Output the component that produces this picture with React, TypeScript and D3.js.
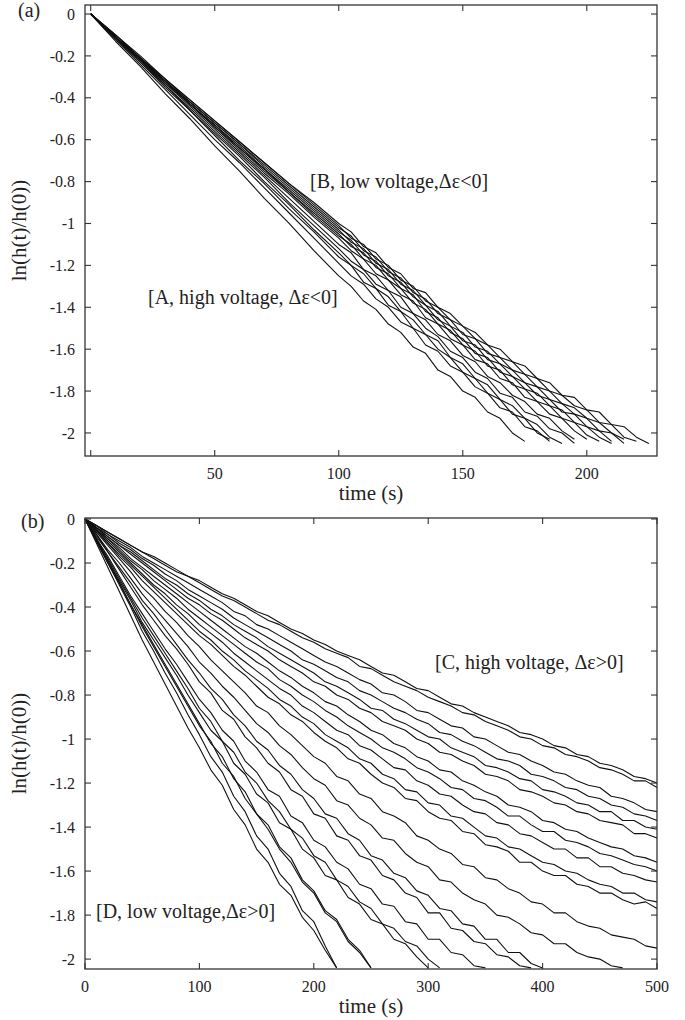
import { useEffect, useRef } from "react";
import * as d3 from "d3";

// ---- panel (a): sampling times (s) and ln(h(t)/h(0)) ----
const timesA = [0, 10, 20, 30, 40, 50, 60, 70, 80, 90, 100, 105, 110, 115, 120, 125, 130, 135,
  140, 145, 150, 155, 160, 165, 170, 175, 180, 185, 190, 195, 200, 205, 210, 215, 220, 225];

const a1 = [0, -0.13, -0.25, -0.38, -0.50, -0.63, -0.75, -0.88, -1.00, -1.13, -1.25,
  -1.30, -1.37, -1.41, -1.48, -1.52, -1.59, -1.62, -1.70, -1.73, -1.80, -1.83, -1.90, -1.93, -2.00, -2.04];
const a2 = [0, -0.12, -0.24, -0.36, -0.48, -0.60, -0.71, -0.83, -0.95, -1.07, -1.19,
  -1.25, -1.29, -1.36, -1.40, -1.47, -1.50, -1.58, -1.61, -1.68, -1.71, -1.78, -1.81, -1.88, -1.90, -1.97, -1.99, -2.04];
const a3 = [0, -0.12, -0.23, -0.35, -0.46, -0.58, -0.70, -0.81, -0.93, -1.04, -1.16,
  -1.20, -1.28, -1.31, -1.39, -1.42, -1.50, -1.53, -1.60, -1.64, -1.71, -1.74, -1.81, -1.84, -1.91, -1.93, -2.00, -2.03];
const a4 = [0, -0.11, -0.23, -0.34, -0.46, -0.57, -0.68, -0.80, -0.91, -1.03, -1.14,
  -1.20, -1.24, -1.31, -1.35, -1.42, -1.46, -1.53, -1.56, -1.64, -1.67, -1.74, -1.77, -1.84, -1.87, -1.93, -1.96, -2.02, -2.05];
const a5 = [0, -0.11, -0.22, -0.34, -0.45, -0.56, -0.67, -0.78, -0.90, -1.01, -1.12,
  -1.18, -1.22, -1.29, -1.32, -1.40, -1.43, -1.50, -1.54, -1.61, -1.64, -1.71, -1.74, -1.81, -1.83, -1.90, -1.92, -1.98, -2.00, -2.05];
const a6 = [0, -0.11, -0.22, -0.33, -0.44, -0.55, -0.66, -0.77, -0.88, -0.99, -1.10,
  -1.14, -1.22, -1.25, -1.32, -1.35, -1.43, -1.46, -1.53, -1.56, -1.63, -1.66, -1.73, -1.76, -1.82, -1.85, -1.91, -1.93, -1.99, -2.03];
const a7 = [0, -0.11, -0.22, -0.33, -0.43, -0.54, -0.65, -0.76, -0.86, -0.97, -1.07,
  -1.13, -1.17, -1.24, -1.27, -1.34, -1.37, -1.45, -1.48, -1.55, -1.58, -1.65, -1.67, -1.74, -1.76, -1.83, -1.85, -1.91, -1.93, -1.99, -2.03];
const a8 = [0, -0.11, -0.22, -0.32, -0.43, -0.54, -0.64, -0.75, -0.85, -0.96, -1.06,
  -1.10, -1.17, -1.20, -1.27, -1.31, -1.38, -1.41, -1.48, -1.51, -1.58, -1.61, -1.68, -1.70, -1.77, -1.79, -1.85, -1.87, -1.93, -1.95, -2.01, -2.04];
const a9 = [0, -0.11, -0.22, -0.32, -0.43, -0.53, -0.64, -0.74, -0.85, -0.95, -1.05,
  -1.11, -1.14, -1.21, -1.24, -1.31, -1.34, -1.42, -1.45, -1.52, -1.55, -1.62, -1.64, -1.71, -1.73, -1.79, -1.81, -1.87, -1.89, -1.95, -1.97, -2.02, -2.05];
const a10 = [0, -0.11, -0.21, -0.32, -0.43, -0.53, -0.63, -0.74, -0.84, -0.94, -1.04,
  -1.08, -1.15, -1.18, -1.25, -1.28, -1.35, -1.39, -1.46, -1.49, -1.56, -1.58, -1.65, -1.67, -1.73, -1.76, -1.82, -1.84, -1.90, -1.91, -1.97, -1.99, -2.04];
const a11 = [0, -0.11, -0.21, -0.32, -0.42, -0.52, -0.62, -0.73, -0.83, -0.93, -1.03,
  -1.09, -1.12, -1.19, -1.22, -1.29, -1.32, -1.39, -1.42, -1.49, -1.52, -1.59, -1.61, -1.67, -1.70, -1.76, -1.78, -1.84, -1.86, -1.91, -1.93, -1.99, -2.00, -2.05];
const a12 = [0, -0.10, -0.21, -0.31, -0.42, -0.52, -0.62, -0.72, -0.82, -0.92, -1.02,
  -1.06, -1.13, -1.16, -1.23, -1.26, -1.33, -1.36, -1.43, -1.46, -1.53, -1.55, -1.62, -1.64, -1.70, -1.72, -1.78, -1.80, -1.86, -1.88, -1.93, -1.95, -2.00, -2.03];
const a13 = [0, -0.10, -0.21, -0.31, -0.41, -0.51, -0.61, -0.71, -0.81, -0.91, -1.01,
  -1.07, -1.10, -1.17, -1.20, -1.27, -1.30, -1.37, -1.40, -1.46, -1.49, -1.55, -1.58, -1.64, -1.66, -1.72, -1.74, -1.80, -1.82, -1.87, -1.89, -1.95, -1.96, -2.02, -2.04];
const a14 = [0, -0.10, -0.20, -0.31, -0.41, -0.51, -0.61, -0.71, -0.81, -0.90, -1.00,
  -1.04, -1.11, -1.14, -1.21, -1.24, -1.31, -1.33, -1.40, -1.43, -1.49, -1.52, -1.58, -1.60, -1.66, -1.68, -1.74, -1.76, -1.82, -1.83, -1.89, -1.90, -1.96, -1.97, -2.02, -2.05];

// ---- panel (b): sampling times (s) ----
const timesB = [0, 10, 20, 30, 40, 50, 60, 70, 80, 90,
  100, 110, 120, 130, 140, 150, 160, 170, 180, 190,
  200, 210, 220, 230, 240, 250, 260, 270, 280, 290,
  300, 310, 320, 330, 340, 350, 360, 370, 380, 390,
  400, 410, 420, 430, 440, 450, 460, 470, 480, 490, 500];

// group C (slow decays reaching t = 500 s)
const c1 = [0, -0.03, -0.06, -0.09, -0.12, -0.15, -0.17, -0.20, -0.23, -0.26,
  -0.28, -0.31, -0.34, -0.36, -0.39, -0.42, -0.44, -0.47, -0.50, -0.52,
  -0.55, -0.57, -0.60, -0.62, -0.64, -0.67, -0.70, -0.71, -0.74, -0.77,
  -0.78, -0.81, -0.84, -0.85, -0.88, -0.90, -0.92, -0.94, -0.97, -0.98,
  -1.00, -1.03, -1.04, -1.07, -1.08, -1.11, -1.12, -1.14, -1.17, -1.18, -1.20];
const c2 = [0, -0.03, -0.06, -0.09, -0.12, -0.15, -0.18, -0.21, -0.24, -0.26,
  -0.29, -0.32, -0.35, -0.37, -0.40, -0.43, -0.46, -0.48, -0.51, -0.54,
  -0.56, -0.59, -0.61, -0.63, -0.67, -0.68, -0.71, -0.74, -0.76, -0.78,
  -0.81, -0.83, -0.85, -0.88, -0.89, -0.92, -0.94, -0.96, -0.99, -1.00,
  -1.03, -1.04, -1.07, -1.08, -1.10, -1.13, -1.14, -1.16, -1.19, -1.19, -1.22];
const c3 = [0, -0.03, -0.07, -0.10, -0.13, -0.17, -0.20, -0.23, -0.26, -0.29,
  -0.32, -0.35, -0.38, -0.42, -0.44, -0.48, -0.50, -0.53, -0.56, -0.59,
  -0.62, -0.65, -0.67, -0.70, -0.73, -0.75, -0.79, -0.80, -0.83, -0.87,
  -0.88, -0.91, -0.94, -0.95, -0.99, -1.00, -1.03, -1.06, -1.07, -1.10,
  -1.12, -1.15, -1.16, -1.19, -1.21, -1.22, -1.26, -1.27, -1.29, -1.32, -1.33];
const c4 = [0, -0.04, -0.07, -0.11, -0.14, -0.18, -0.21, -0.25, -0.28, -0.32,
  -0.35, -0.38, -0.41, -0.45, -0.48, -0.51, -0.54, -0.57, -0.60, -0.64,
  -0.66, -0.69, -0.72, -0.74, -0.78, -0.80, -0.83, -0.86, -0.88, -0.91,
  -0.93, -0.97, -0.98, -1.01, -1.03, -1.06, -1.09, -1.10, -1.12, -1.16,
  -1.17, -1.19, -1.22, -1.23, -1.26, -1.27, -1.30, -1.31, -1.34, -1.35, -1.37];
const c5 = [0, -0.04, -0.08, -0.12, -0.15, -0.19, -0.23, -0.27, -0.30, -0.34,
  -0.37, -0.41, -0.44, -0.48, -0.51, -0.54, -0.58, -0.61, -0.64, -0.67,
  -0.70, -0.74, -0.76, -0.79, -0.82, -0.86, -0.87, -0.91, -0.93, -0.96,
  -0.99, -1.00, -1.04, -1.06, -1.08, -1.12, -1.13, -1.15, -1.18, -1.19,
  -1.23, -1.24, -1.26, -1.29, -1.30, -1.33, -1.33, -1.37, -1.37, -1.40, -1.41];
const c6 = [0, -0.04, -0.08, -0.12, -0.16, -0.20, -0.24, -0.28, -0.32, -0.36,
  -0.39, -0.43, -0.46, -0.50, -0.54, -0.57, -0.60, -0.64, -0.67, -0.70,
  -0.74, -0.76, -0.80, -0.82, -0.86, -0.88, -0.92, -0.94, -0.96, -1.00,
  -1.02, -1.06, -1.07, -1.10, -1.12, -1.16, -1.17, -1.19, -1.23, -1.24,
  -1.26, -1.29, -1.30, -1.33, -1.34, -1.37, -1.38, -1.39, -1.43, -1.43, -1.45];
const c7 = [0, -0.04, -0.09, -0.13, -0.18, -0.22, -0.26, -0.30, -0.34, -0.38,
  -0.42, -0.46, -0.50, -0.54, -0.58, -0.61, -0.65, -0.69, -0.72, -0.76,
  -0.79, -0.83, -0.85, -0.89, -0.92, -0.96, -0.98, -1.02, -1.04, -1.08,
  -1.10, -1.14, -1.15, -1.19, -1.21, -1.24, -1.26, -1.30, -1.31, -1.33,
  -1.37, -1.38, -1.41, -1.42, -1.45, -1.47, -1.49, -1.50, -1.53, -1.54, -1.56];
const c8 = [0, -0.05, -0.09, -0.14, -0.19, -0.23, -0.28, -0.32, -0.36, -0.41,
  -0.45, -0.49, -0.53, -0.57, -0.61, -0.65, -0.68, -0.73, -0.76, -0.80,
  -0.83, -0.87, -0.90, -0.94, -0.97, -1.00, -1.04, -1.06, -1.09, -1.13,
  -1.15, -1.18, -1.22, -1.23, -1.27, -1.28, -1.31, -1.35, -1.35, -1.39,
  -1.42, -1.42, -1.46, -1.47, -1.49, -1.52, -1.53, -1.55, -1.57, -1.58, -1.60];
const c9 = [0, -0.05, -0.10, -0.15, -0.20, -0.25, -0.30, -0.34, -0.39, -0.43,
  -0.48, -0.52, -0.56, -0.61, -0.65, -0.69, -0.73, -0.77, -0.80, -0.85,
  -0.88, -0.92, -0.96, -0.98, -1.03, -1.05, -1.09, -1.13, -1.14, -1.19,
  -1.21, -1.25, -1.26, -1.30, -1.33, -1.34, -1.38, -1.39, -1.43, -1.44,
  -1.47, -1.50, -1.50, -1.54, -1.54, -1.58, -1.58, -1.61, -1.62, -1.64, -1.65];
const c10 = [0, -0.05, -0.11, -0.16, -0.21, -0.26, -0.31, -0.36, -0.41, -0.46,
  -0.51, -0.55, -0.60, -0.64, -0.69, -0.73, -0.77, -0.82, -0.85, -0.90,
  -0.93, -0.98, -1.01, -1.04, -1.09, -1.11, -1.16, -1.18, -1.23, -1.24,
  -1.29, -1.30, -1.35, -1.36, -1.40, -1.44, -1.45, -1.49, -1.50, -1.53,
  -1.56, -1.57, -1.60, -1.61, -1.64, -1.66, -1.67, -1.70, -1.70, -1.73, -1.74];
const c11 = [0, -0.06, -0.11, -0.17, -0.22, -0.28, -0.33, -0.38, -0.43, -0.48,
  -0.53, -0.57, -0.62, -0.67, -0.71, -0.76, -0.81, -0.84, -0.89, -0.92,
  -0.97, -1.01, -1.04, -1.09, -1.11, -1.16, -1.20, -1.22, -1.27, -1.28,
  -1.33, -1.36, -1.37, -1.42, -1.43, -1.48, -1.49, -1.51, -1.56, -1.56,
  -1.60, -1.62, -1.62, -1.66, -1.67, -1.70, -1.70, -1.73, -1.75, -1.74, -1.77];
const c12 = [0, -0.06, -0.12, -0.18, -0.24, -0.31, -0.36, -0.42, -0.47, -0.53,
  -0.58, -0.64, -0.69, -0.74, -0.79, -0.85, -0.88, -0.94, -0.98, -1.03,
  -1.08, -1.11, -1.17, -1.19, -1.25, -1.27, -1.33, -1.35, -1.38, -1.44,
  -1.46, -1.50, -1.52, -1.57, -1.58, -1.63, -1.64, -1.68, -1.70, -1.74,
  -1.75, -1.79, -1.79, -1.83, -1.85, -1.86, -1.89, -1.90, -1.91, -1.94, -1.95];

// group D (fast decays that leave the plot at the bottom)
const d1 = [0, -0.11, -0.22, -0.33, -0.44, -0.55, -0.65, -0.75, -0.85, -0.95,
  -1.04, -1.14, -1.21, -1.32, -1.39, -1.50, -1.56, -1.66, -1.71, -1.81,
  -1.87, -1.96, -2.04];
const d2 = [0, -0.10, -0.20, -0.30, -0.40, -0.51, -0.60, -0.70, -0.79, -0.89,
  -0.98, -1.08, -1.15, -1.26, -1.33, -1.44, -1.50, -1.61, -1.67, -1.78,
  -1.83, -1.94, -2.04];
const d3v = [0, -0.10, -0.20, -0.29, -0.39, -0.49, -0.58, -0.67, -0.76, -0.85,
  -0.94, -1.01, -1.11, -1.17, -1.27, -1.34, -1.41, -1.50, -1.56, -1.65,
  -1.70, -1.79, -1.83, -1.92, -1.97, -2.04];
const d4 = [0, -0.10, -0.19, -0.29, -0.39, -0.48, -0.57, -0.66, -0.75, -0.84,
  -0.93, -1.02, -1.08, -1.18, -1.24, -1.34, -1.39, -1.49, -1.54, -1.64,
  -1.69, -1.78, -1.82, -1.91, -1.96, -2.04];
const d5 = [0, -0.09, -0.19, -0.28, -0.37, -0.47, -0.55, -0.63, -0.71, -0.80,
  -0.88, -0.96, -1.01, -1.11, -1.16, -1.25, -1.29, -1.38, -1.41, -1.50,
  -1.54, -1.62, -1.64, -1.72, -1.75, -1.82, -1.84, -1.91, -1.93, -1.99,
  -2.04];
const d6 = [0, -0.09, -0.18, -0.27, -0.36, -0.45, -0.53, -0.61, -0.69, -0.77,
  -0.86, -0.92, -1.01, -1.06, -1.15, -1.20, -1.28, -1.33, -1.41, -1.45,
  -1.53, -1.56, -1.64, -1.67, -1.74, -1.77, -1.84, -1.86, -1.92, -1.94,
  -2.00, -2.04];
const d7 = [0, -0.09, -0.17, -0.26, -0.35, -0.43, -0.51, -0.59, -0.66, -0.74,
  -0.82, -0.88, -0.96, -1.01, -1.10, -1.15, -1.23, -1.26, -1.35, -1.38,
  -1.46, -1.49, -1.56, -1.59, -1.66, -1.68, -1.75, -1.76, -1.83, -1.84,
  -1.91, -1.91, -1.97, -1.98, -2.03, -2.04];
const d8 = [0, -0.08, -0.15, -0.23, -0.31, -0.39, -0.46, -0.53, -0.59, -0.66,
  -0.74, -0.79, -0.87, -0.91, -0.99, -1.04, -1.11, -1.15, -1.23, -1.26,
  -1.34, -1.36, -1.44, -1.46, -1.53, -1.55, -1.62, -1.64, -1.70, -1.72,
  -1.79, -1.79, -1.86, -1.87, -1.92, -1.93, -1.98, -1.99, -2.03, -2.04];
const d9 = [0, -0.07, -0.15, -0.22, -0.29, -0.37, -0.43, -0.50, -0.57, -0.64,
  -0.70, -0.77, -0.82, -0.89, -0.94, -1.01, -1.05, -1.12, -1.16, -1.23,
  -1.27, -1.34, -1.36, -1.43, -1.46, -1.53, -1.55, -1.61, -1.63, -1.69,
  -1.71, -1.77, -1.78, -1.84, -1.85, -1.91, -1.91, -1.97, -1.97, -2.02,
  -2.04];
const d10 = [0, -0.07, -0.14, -0.20, -0.27, -0.34, -0.40, -0.46, -0.52, -0.58,
  -0.65, -0.70, -0.76, -0.81, -0.87, -0.93, -0.97, -1.03, -1.07, -1.13,
  -1.18, -1.21, -1.28, -1.30, -1.36, -1.39, -1.45, -1.46, -1.52, -1.56,
  -1.58, -1.64, -1.65, -1.70, -1.73, -1.75, -1.80, -1.81, -1.84, -1.88,
  -1.89, -1.93, -1.93, -1.97, -1.99, -2.00, -2.03, -2.04];

const curvesA = [a1, a2, a3, a4, a5, a6, a7, a8, a9, a10, a11, a12, a13, a14];
const curvesB = [c1, c2, c3, c4, c5, c6, c7, c8, c9, c10, c11, c12,
  d1, d2, d3v, d4, d5, d6, d7, d8, d9, d10];

// ticks
const yTicks = [0, -0.2, -0.4, -0.6, -0.8, -1, -1.2, -1.4, -1.6, -1.8, -2];
const xTicksA = [0, 50, 100, 150, 200];
const xLabelsA = [50, 100, 150, 200];
const xTicksB = [0, 100, 200, 300, 400, 500];
const xLabelsB = [0, 100, 200, 300, 400, 500];

const yTitle = "ln(h(t)/h(0))";
const xTitle = "time (s)";

const FONT = '"Liberation Serif", "Times New Roman", serif';
const AXIS = "#333";
const INK = "#111";
const TICK = 6;

const drawPanel = (svg, p) => {
  const x = d3.scaleLinear().domain(p.xDomain).range([p.left, p.right]);
  const y = d3.scaleLinear().domain(p.yDomain).range([p.bottom, p.top]);
  const g = svg.append("g");

  const line = d3.line()
    .x((_, i) => x(p.times[i]))
    .y((v) => y(v));

  g.append("g")
    .selectAll("path")
    .data(p.curves)
    .join("path")
    .attr("d", (d) => line(d))
    .attr("fill", "none")
    .attr("stroke", INK)
    .attr("stroke-width", 1.1)
    .attr("stroke-linejoin", "round");

  // box
  g.append("rect")
    .attr("x", p.left).attr("y", p.top)
    .attr("width", p.right - p.left).attr("height", p.bottom - p.top)
    .attr("fill", "none").attr("stroke", AXIS).attr("stroke-width", 1.3);

  const ticks = g.append("g").attr("stroke", AXIS).attr("stroke-width", 1.1);
  p.xTicks.forEach((t) => {
    const xx = x(t);
    ticks.append("line").attr("x1", xx).attr("x2", xx).attr("y1", p.bottom).attr("y2", p.bottom - TICK);
    ticks.append("line").attr("x1", xx).attr("x2", xx).attr("y1", p.top).attr("y2", p.top + TICK);
  });
  yTicks.forEach((v) => {
    const yy = y(v);
    ticks.append("line").attr("x1", p.left).attr("x2", p.left + TICK).attr("y1", yy).attr("y2", yy);
    ticks.append("line").attr("x1", p.right).attr("x2", p.right - TICK).attr("y1", yy).attr("y2", yy);
  });

  const txt = g.append("g").attr("font-family", FONT).attr("fill", "#222");

  txt.selectAll(".ylab").data(yTicks).join("text")
    .attr("x", p.left - 10).attr("y", (v) => y(v)).attr("dy", "0.35em")
    .attr("text-anchor", "end").attr("font-size", 16)
    .text((v) => String(v));

  txt.selectAll(".xlab").data(p.xLabels).join("text")
    .attr("x", (t) => x(t)).attr("y", p.bottom + 23)
    .attr("text-anchor", "middle").attr("font-size", 16)
    .text((t) => String(t));

  txt.append("text")
    .attr("x", (p.left + p.right) / 2).attr("y", p.bottom + 44)
    .attr("text-anchor", "middle").attr("font-size", 21)
    .text(xTitle);

  txt.append("text")
    .attr("transform", `translate(26,${(p.top + p.bottom) / 2}) rotate(-90)`)
    .attr("text-anchor", "middle").attr("font-size", 21)
    .text(yTitle);

  txt.append("text")
    .attr("x", p.tagX).attr("y", p.tagY).attr("font-size", 20)
    .text(p.tag);

  p.notes.forEach((n) => {
    txt.append("text")
      .attr("x", n.x).attr("y", n.y).attr("font-size", 20)
      .text(n.text);
  });
};

const App = () => {
  const ref = useRef(null);

  useEffect(() => {
    const svg = d3.select(ref.current);
    svg.selectAll("*").remove();

    drawPanel(svg, {
      left: 85, right: 657, top: 5, bottom: 456,
      xDomain: [-2.3, 228.3], yDomain: [-2.11, 0.043],
      times: timesA, curves: curvesA,
      xTicks: xTicksA, xLabels: xLabelsA,
      tag: "(a)", tagX: 18, tagY: 17,
      notes: [
        { text: "[B, low voltage,\u0394\u03b5<0]", x: 310, y: 188 },
        { text: "[A, high voltage, \u0394\u03b5<0]", x: 148, y: 304 },
      ],
    });

    drawPanel(svg, {
      left: 85, right: 657, top: 518, bottom: 969,
      xDomain: [0, 500], yDomain: [-2.045, 0.0045],
      times: timesB, curves: curvesB,
      xTicks: xTicksB, xLabels: xLabelsB,
      tag: "(b)", tagX: 21, tagY: 528,
      notes: [
        { text: "[C, high voltage, \u0394\u03b5>0]", x: 435, y: 669 },
        { text: "[D, low voltage,\u0394\u03b5>0]", x: 96, y: 918 },
      ],
    });
  }, []);

  return (
    <svg
      ref={ref}
      width={685}
      height={1020}
      style={{ position: "absolute", left: 0, top: 0, background: "#fff" }}
    />
  );
};

export default App;
